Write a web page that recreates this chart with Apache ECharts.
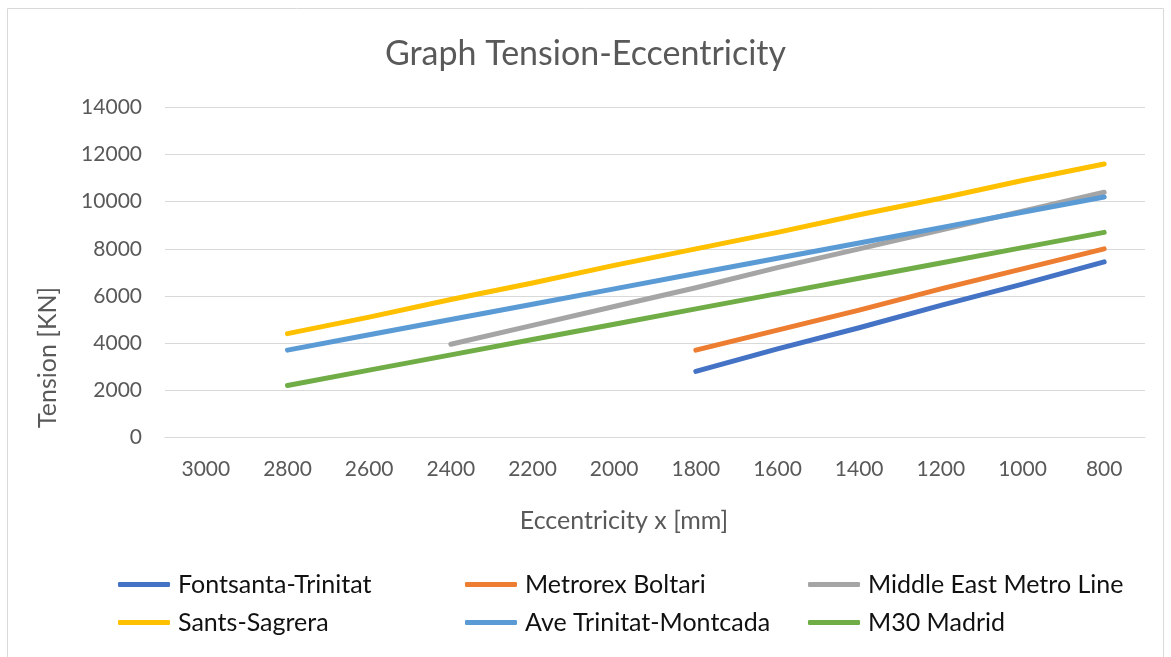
<!DOCTYPE html>
<html>
<head>
<meta charset="utf-8">
<script src="https://cdn.jsdelivr.net/npm/echarts@6/dist/echarts.min.js"></script>
<style>
  html, body { margin: 0; padding: 0; background: #fff; }
  #chart { width: 1171px; height: 657px; }
</style>
</head>
<body>
<div id="chart"></div>
<script>
// Eccentricity categories (mm), plotted from largest to smallest
const eccentricity = ['3000', '2800', '2600', '2400', '2200', '2000', '1800', '1600', '1400', '1200', '1000', '800'];

// Tension values (kN) per project; '-' where no value exists
const fontsantaTrinitat = ['-', '-', '-', '-', '-', '-', 2800, 3750, 4650, 5600, 6500, 7450];
const metrorexBoltari   = ['-', '-', '-', '-', '-', '-', 3700, 4550, 5400, 6300, 7150, 8000];
const middleEastMetro   = ['-', '-', '-', 3950, 4750, 5550, 6350, 7200, 8000, 8800, 9600, 10400];
const santsSagrera      = ['-', 4400, 5100, 5850, 6550, 7300, 8000, 8700, 9450, 10150, 10900, 11600];
const aveTrinitat       = ['-', 3700, 4350, 5000, 5650, 6300, 6950, 7600, 8250, 8900, 9550, 10200];
const m30Madrid         = ['-', 2200, 2850, 3500, 4150, 4800, 5450, 6100, 6750, 7400, 8050, 8700];

const seriesNames = ['Fontsanta-Trinitat', 'Metrorex Boltari', 'Middle East Metro Line', 'Sants-Sagrera', 'Ave Trinitat-Montcada', 'M30 Madrid'];
const seriesData = [fontsantaTrinitat, metrorexBoltari, middleEastMetro, santsSagrera, aveTrinitat, m30Madrid];
const colors = ['#4472C4', '#ED7D31', '#A5A5A5', '#FFC000', '#5B9BD5', '#70AD47'];

const font = 'Lato, "Open Sans", sans-serif';

// One legend column holds two entries stacked vertically
function legendColumn(names, left) {
  return {
    data: names,
    orient: 'vertical',
    left: left,
    top: 572,
    padding: 0,
    itemGap: 13,
    itemWidth: 52,
    itemHeight: 5,
    icon: 'roundRect',
    textStyle: { color: '#111', fontSize: 25, fontFamily: font, padding: [0, 0, 0, 3] }
  };
}

const chart = echarts.init(document.getElementById('chart'));
chart.setOption({
  animation: false,
  color: colors,
  graphic: [{
    type: 'rect',
    shape: { x: 7.5, y: 8.5, width: 1156, height: 700 },
    style: { fill: 'none', stroke: '#d9d9d9', lineWidth: 1 },
    silent: true
  }],
  title: {
    text: 'Graph Tension-Eccentricity',
    left: 'center',
    top: 37,
    padding: 0,
    textStyle: { color: '#595959', fontSize: 34, fontWeight: 'normal', fontFamily: font }
  },
  legend: [
    legendColumn(['Fontsanta-Trinitat', 'Sants-Sagrera'], 118),
    legendColumn(['Metrorex Boltari', 'Ave Trinitat-Montcada'], 465),
    legendColumn(['Middle East Metro Line', 'M30 Madrid'], 808)
  ],
  grid: { left: 165, right: 26, top: 107.5, bottom: 219.7 },
  xAxis: {
    type: 'category',
    data: eccentricity,
    boundaryGap: true,
    name: 'Eccentricity x [mm]',
    nameLocation: 'middle',
    nameGap: 71,
    nameTextStyle: { color: '#595959', fontSize: 25, fontFamily: font, padding: [0, 62, 0, 0] },
    axisLine: { show: true, lineStyle: { color: '#d9d9d9', width: 1 } },
    axisTick: { show: false },
    axisLabel: { color: '#595959', fontSize: 21, fontFamily: font, margin: 21 },
    splitLine: { show: false }
  },
  yAxis: {
    type: 'value',
    min: 0,
    max: 14000,
    interval: 2000,
    name: 'Tension [KN]',
    nameLocation: 'middle',
    nameGap: 105,
    nameTextStyle: { color: '#595959', fontSize: 25, fontFamily: font, padding: [0, 170, 0, 0] },
    axisLine: { show: false },
    axisTick: { show: false },
    axisLabel: { color: '#595959', fontSize: 21, fontFamily: font, margin: 23, formatter: v => String(v) },
    splitLine: { show: true, lineStyle: { color: '#d9d9d9', width: 1 } }
  },
  series: seriesNames.map((name, i) => ({
    name: name,
    type: 'line',
    data: seriesData[i],
    showSymbol: false,
    symbol: 'none',
    lineStyle: { width: 5, cap: 'round', join: 'round', color: colors[i] },
    itemStyle: { color: colors[i] }
  }))
});
</script>
</body>
</html>
